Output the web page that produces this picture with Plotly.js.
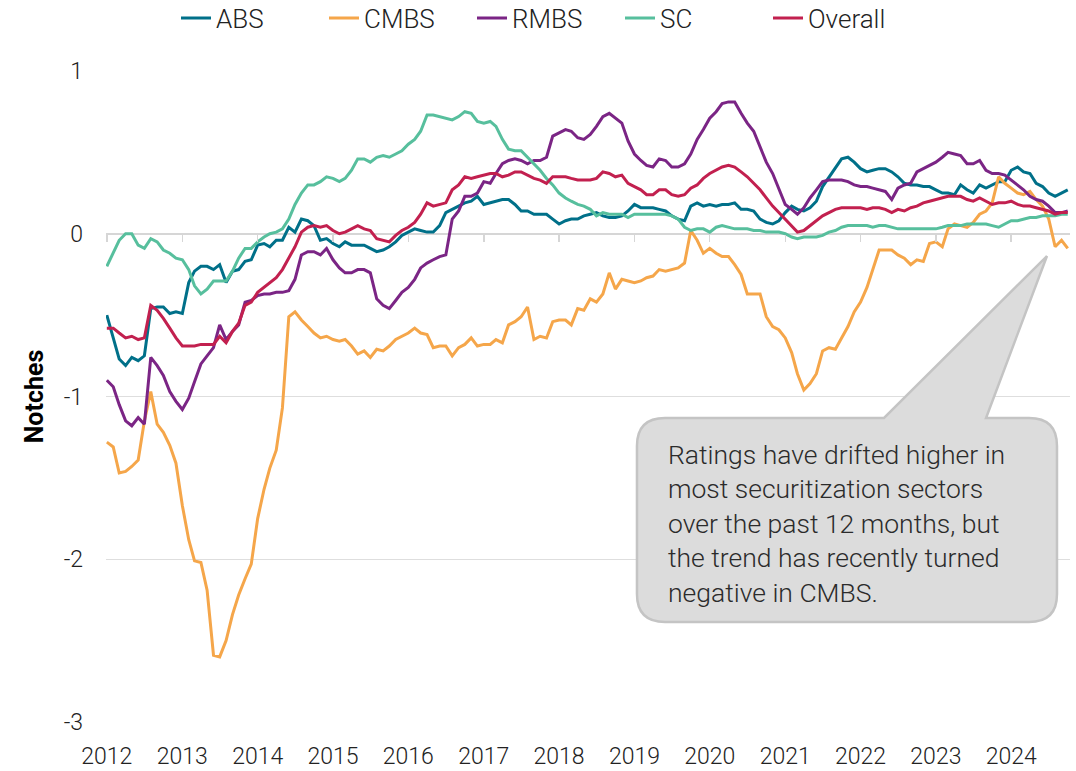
<!DOCTYPE html>
<html>
<head>
<meta charset="utf-8">
<script src="https://cdn.plot.ly/plotly-3.0.1.min.js"></script>
<style>
  html, body { margin: 0; padding: 0; background: #ffffff; }
  #chart { width: 1076px; height: 771px; }
</style>
</head>
<body>
<div id="chart"></div>
<script>
// ---- Data (monthly, Jan 2012 onward) ----
const startYear = 2012;
const seriesNames = ['ABS', 'CMBS', 'RMBS', 'SC', 'Overall'];

const abs = [
 -0.50,-0.64,-0.77,-0.81,-0.76,-0.78,-0.75,-0.46,-0.45,-0.45,-0.49,-0.48,
 -0.49,-0.30,-0.23,-0.20,-0.20,-0.22,-0.19,-0.30,-0.23,-0.22,-0.17,-0.16,
 -0.07,-0.06,-0.08,-0.04,-0.04,0.04,0.01,0.09,0.08,0.05,-0.04,-0.03,
 -0.06,-0.08,-0.05,-0.07,-0.07,-0.07,-0.09,-0.11,-0.10,-0.08,-0.05,-0.01,
 0.01,0.03,0.02,0.01,0.01,0.05,0.13,0.15,0.17,0.19,0.20,0.23,
 0.18,0.19,0.20,0.21,0.21,0.18,0.14,0.14,0.12,0.12,0.12,0.09,
 0.06,0.08,0.09,0.09,0.11,0.12,0.13,0.11,0.10,0.10,0.11,0.14,
 0.18,0.16,0.16,0.16,0.15,0.14,0.11,0.09,0.08,0.17,0.19,0.17,
 0.18,0.17,0.18,0.18,0.19,0.15,0.15,0.14,0.09,0.07,0.06,0.08,
 0.13,0.17,0.15,0.14,0.16,0.20,0.29,0.35,0.41,0.46,0.47,0.44,
 0.40,0.38,0.39,0.40,0.40,0.38,0.35,0.31,0.30,0.30,0.29,0.29,
 0.27,0.25,0.25,0.24,0.30,0.27,0.25,0.30,0.28,0.30,0.32,0.32,
 0.39,0.41,0.38,0.37,0.31,0.29,0.25,0.23,0.25,0.27
];

const cmbs = [
 -1.28,-1.31,-1.47,-1.46,-1.43,-1.39,-1.15,-0.97,-1.17,-1.22,-1.30,-1.41,
 -1.67,-1.88,-2.01,-2.02,-2.19,-2.59,-2.60,-2.50,-2.34,-2.22,-2.12,-2.03,
 -1.75,-1.57,-1.44,-1.33,-1.07,-0.51,-0.48,-0.53,-0.57,-0.61,-0.64,-0.63,
 -0.65,-0.66,-0.65,-0.69,-0.74,-0.72,-0.76,-0.71,-0.72,-0.69,-0.65,-0.63,
 -0.61,-0.58,-0.61,-0.62,-0.70,-0.69,-0.69,-0.75,-0.70,-0.68,-0.64,-0.69,
 -0.68,-0.68,-0.65,-0.67,-0.56,-0.54,-0.51,-0.45,-0.65,-0.63,-0.64,-0.54,
 -0.53,-0.53,-0.56,-0.46,-0.47,-0.40,-0.42,-0.37,-0.24,-0.34,-0.28,-0.29,
 -0.30,-0.29,-0.27,-0.26,-0.22,-0.23,-0.22,-0.21,-0.18,0.02,-0.04,-0.12,
 -0.09,-0.12,-0.14,-0.14,-0.19,-0.25,-0.37,-0.37,-0.37,-0.51,-0.57,-0.59,
 -0.64,-0.73,-0.86,-0.96,-0.92,-0.86,-0.72,-0.70,-0.71,-0.64,-0.57,-0.48,
 -0.42,-0.33,-0.22,-0.10,-0.10,-0.10,-0.13,-0.15,-0.19,-0.16,-0.17,-0.06,
 -0.05,-0.08,0.03,0.06,0.05,0.04,0.07,0.12,0.14,0.19,0.35,0.31,
 0.28,0.25,0.24,0.26,0.21,0.17,0.09,-0.08,-0.04,-0.09
];

const rmbs = [
 -0.90,-0.94,-1.05,-1.15,-1.18,-1.13,-1.17,-0.76,-0.81,-0.87,-0.97,-1.03,
 -1.08,-1.01,-0.91,-0.80,-0.75,-0.70,-0.56,-0.65,-0.60,-0.56,-0.42,-0.41,
 -0.38,-0.37,-0.37,-0.36,-0.36,-0.35,-0.28,-0.13,-0.11,-0.11,-0.13,-0.09,
 -0.16,-0.21,-0.24,-0.24,-0.22,-0.22,-0.24,-0.40,-0.44,-0.46,-0.41,-0.36,
 -0.33,-0.28,-0.21,-0.18,-0.16,-0.14,-0.13,0.09,0.14,0.23,0.23,0.25,
 0.32,0.31,0.37,0.43,0.45,0.46,0.45,0.43,0.45,0.45,0.47,0.60,
 0.62,0.64,0.63,0.59,0.58,0.61,0.66,0.72,0.74,0.71,0.68,0.57,
 0.49,0.45,0.42,0.41,0.46,0.45,0.41,0.41,0.43,0.49,0.58,0.64,
 0.71,0.75,0.80,0.81,0.81,0.74,0.68,0.63,0.53,0.44,0.37,0.28,
 0.18,0.15,0.12,0.16,0.22,0.27,0.32,0.33,0.33,0.33,0.32,0.30,
 0.29,0.29,0.28,0.27,0.26,0.21,0.28,0.30,0.31,0.38,0.40,0.42,
 0.44,0.47,0.50,0.49,0.48,0.43,0.43,0.45,0.39,0.37,0.37,0.36,
 0.33,0.30,0.27,0.23,0.21,0.20,0.17,0.13,0.13,0.14
];

const sc = [
 -0.20,-0.12,-0.04,0.00,0.00,-0.07,-0.09,-0.03,-0.05,-0.10,-0.12,-0.15,
 -0.16,-0.22,-0.32,-0.37,-0.34,-0.29,-0.29,-0.29,-0.23,-0.15,-0.09,-0.09,
 -0.05,-0.02,0.00,0.01,0.03,0.09,0.18,0.25,0.30,0.30,0.32,0.35,
 0.34,0.32,0.34,0.39,0.46,0.46,0.44,0.47,0.48,0.47,0.49,0.51,
 0.55,0.58,0.63,0.73,0.73,0.72,0.71,0.70,0.72,0.75,0.74,0.69,
 0.68,0.69,0.66,0.58,0.52,0.51,0.51,0.47,0.43,0.39,0.34,0.30,
 0.25,0.22,0.20,0.18,0.17,0.15,0.11,0.13,0.12,0.12,0.12,0.10,
 0.12,0.12,0.12,0.12,0.12,0.12,0.11,0.09,0.04,0.02,0.03,0.03,
 0.01,0.04,0.05,0.04,0.03,0.03,0.03,0.02,0.02,0.01,0.01,0.01,
 0.00,-0.02,-0.03,-0.02,-0.02,-0.02,-0.01,0.01,0.02,0.04,0.05,0.05,
 0.05,0.05,0.04,0.05,0.05,0.04,0.03,0.03,0.03,0.03,0.03,0.03,
 0.03,0.04,0.05,0.05,0.05,0.06,0.06,0.06,0.06,0.05,0.04,0.06,
 0.08,0.08,0.09,0.10,0.10,0.11,0.11,0.11,0.12,0.12
];

const overall = [
 -0.58,-0.58,-0.61,-0.64,-0.63,-0.65,-0.64,-0.44,-0.47,-0.52,-0.58,-0.64,
 -0.69,-0.69,-0.69,-0.68,-0.68,-0.68,-0.63,-0.67,-0.60,-0.55,-0.44,-0.42,
 -0.36,-0.33,-0.30,-0.27,-0.22,-0.15,-0.08,0.01,0.04,0.05,0.04,0.05,
 0.02,0.00,0.01,0.03,0.05,0.03,0.02,-0.03,-0.04,-0.05,-0.01,0.02,
 0.04,0.07,0.12,0.19,0.17,0.18,0.19,0.27,0.30,0.35,0.34,0.35,
 0.36,0.37,0.37,0.35,0.36,0.38,0.38,0.36,0.34,0.33,0.31,0.35,
 0.35,0.35,0.34,0.33,0.33,0.33,0.34,0.38,0.37,0.35,0.36,0.31,
 0.29,0.27,0.24,0.24,0.27,0.27,0.24,0.23,0.24,0.28,0.30,0.34,
 0.37,0.39,0.41,0.42,0.41,0.38,0.35,0.31,0.27,0.22,0.17,0.13,
 0.09,0.05,0.01,0.02,0.05,0.08,0.11,0.13,0.15,0.16,0.16,0.16,
 0.16,0.15,0.16,0.16,0.15,0.13,0.15,0.14,0.16,0.17,0.19,0.20,
 0.21,0.22,0.23,0.23,0.23,0.21,0.20,0.22,0.20,0.18,0.19,0.19,
 0.20,0.18,0.17,0.17,0.16,0.15,0.14,0.12,0.13,0.13
];

const yTickVals = [-3, -2, -1, 0, 1];
const yTickText = ['-3', '-2', '-1', '0', '1'];
const yearLabels = ['2012','2013','2014','2015','2016','2017','2018','2019','2020','2021','2022','2023','2024'];
const calloutText = 'Ratings have drifted higher in<br>most securitization sectors<br>over the past 12 months, but<br>the trend has recently turned<br>negative in CMBS.';

// ---- x dates (one per monthly observation) ----
function monthDates(n) {
  const out = [];
  for (let i = 0; i < n; i++) {
    const y = startYear + Math.floor(i / 12);
    const m = (i % 12) + 1;
    out.push(y + '-' + (m < 10 ? '0' + m : m) + '-01');
  }
  return out;
}
const dates = monthDates(abs.length);
const yearTickVals = yearLabels.map(y => y + '-01-01');

const colors = ['#007089', '#f5a64a', '#7b2585', '#57bf9d', '#c2204f'];
const values = [abs, cmbs, rmbs, sc, overall];

const traces = seriesNames.map((name, i) => ({
  type: 'scatter', mode: 'lines', name: name,
  x: dates, y: values[i],
  line: { color: colors[i], width: 3 },
  hoverinfo: 'skip'
}));
// empty trace so the zero-line tick axis is drawn
traces.push({ type: 'scatter', mode: 'lines', x: [], y: [], xaxis: 'x2', yaxis: 'y', showlegend: false, hoverinfo: 'skip' });

// ---- layout geometry ----
const W = 1076, H = 771;
const M = { l: 106, r: 6, t: 71, b: 49 };
const PW = W - M.l - M.r, PH = H - M.t - M.b;
const fx = px => (px - M.l) / PW;
const fy = py => (H - M.b - py) / PH;

// callout bubble (pixel geometry -> paper coords)
const bx0 = fx(637), bx1 = fx(1057), byT = fy(418), byB = fy(622);
const rx = 28 / PW, ry = 28 / PH;
const tL = fx(884), tR = fx(986), tipX = fx(1047), tipY = fy(256);
const p = (a, b) => a.toFixed(4) + ',' + b.toFixed(4);
const bubblePath =
  'M' + p(bx0 + rx, byT) +
  ' L' + p(tL, byT) + ' L' + p(tipX, tipY) + ' L' + p(tR, byT) +
  ' L' + p(bx1 - rx, byT) +
  ' Q' + p(bx1, byT) + ' ' + p(bx1, byT - ry) +
  ' L' + p(bx1, byB + ry) +
  ' Q' + p(bx1, byB) + ' ' + p(bx1 - rx, byB) +
  ' L' + p(bx0 + rx, byB) +
  ' Q' + p(bx0, byB) + ' ' + p(bx0, byB + ry) +
  ' L' + p(bx0, byT - ry) +
  ' Q' + p(bx0, byT) + ' ' + p(bx0 + rx, byT) + ' Z';

const xRange = ['2011-12-28', '2024-10-12'];
const fontFam = 'Roboto, "Liberation Sans", sans-serif';

const layout = {
  width: W, height: H,
  margin: M,
  paper_bgcolor: '#ffffff', plot_bgcolor: '#ffffff',
  font: { family: fontFam, color: '#333333', size: 22 },
  showlegend: true,
  legend: {
    orientation: 'h', xref: 'container', yref: 'container',
    x: 546 / W, xanchor: 'center', y: 1 - 18 / H, yanchor: 'middle',
    font: { family: fontFam, size: 26, color: '#222222', weight: 300 },
    itemwidth: 30, tracegroupgap: 0, bgcolor: 'rgba(0,0,0,0)',
    entrywidth: 103, entrywidthmode: 'pixels'
  },
  xaxis: {
    type: 'date', range: xRange,
    tickvals: yearTickVals, ticktext: yearLabels,
    showgrid: false, zeroline: false, showline: false, ticks: '',
    tickfont: { family: fontFam, size: 23, color: '#222222', weight: 300 },
    ticklabelstandoff: 18
  },
  xaxis2: {
    type: 'date', range: xRange, overlaying: 'x', anchor: 'free', position: 0.75,
    tickvals: yearTickVals, showticklabels: false,
    showgrid: false, zeroline: false, showline: false,
    ticks: 'outside', ticklen: 7, tickwidth: 1.5, tickcolor: '#d6d6d6'
  },
  yaxis: {
    range: [-3, 1], tickvals: yTickVals, ticktext: yTickText,
    showgrid: true, gridcolor: '#dedede', gridwidth: 1.3,
    zeroline: true, zerolinecolor: '#d6d6d6', zerolinewidth: 2.5,
    showline: false, ticks: '',
    tickfont: { family: fontFam, size: 23, color: '#222222', weight: 300 },
    ticklabelstandoff: 22,
    title: { text: '<b>Notches</b>', font: { family: fontFam, size: 25, color: '#000000' }, standoff: 12 }
  },
  shapes: [{
    type: 'path', xref: 'paper', yref: 'paper', path: bubblePath,
    fillcolor: '#dcdcdc', line: { color: '#c4c4c4', width: 2.5 }, layer: 'above'
  }],
  annotations: [{
    xref: 'paper', yref: 'paper', x: fx(666), y: fy(523),
    xanchor: 'left', yanchor: 'middle', align: 'left', showarrow: false,
    text: calloutText,
    font: { family: fontFam, size: 26.5, color: '#2b2b2b', weight: 300 }
  }]
};

Plotly.newPlot('chart', traces, layout, { staticPlot: true, displayModeBar: false });
</script>
</body>
</html>
